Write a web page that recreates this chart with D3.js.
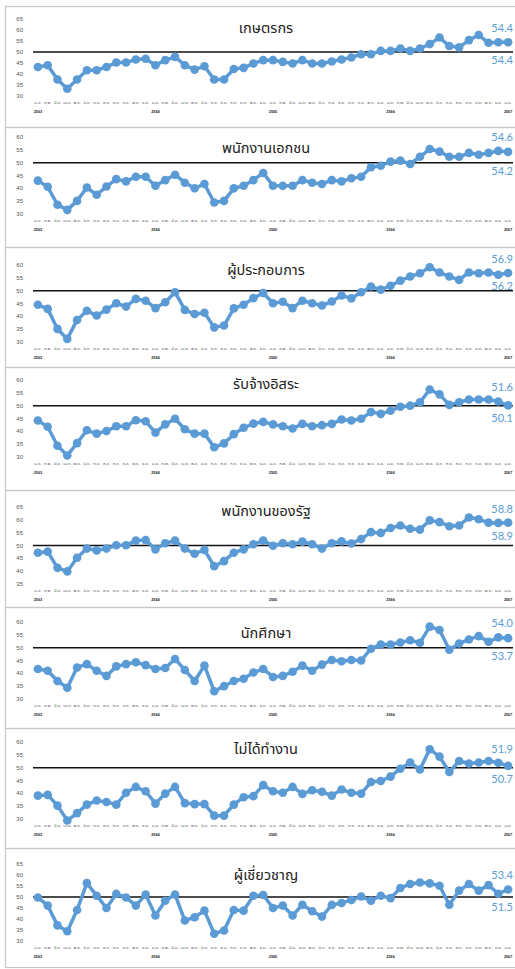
<!DOCTYPE html>
<html>
<head>
<meta charset="utf-8">
<script src="https://cdn.jsdelivr.net/npm/d3@7"></script>
<style>
  body { margin: 0; background: #fff; }
  svg { display: block; }
  .title { font-family: "Noto Sans Thai", "Tahoma", "Leelawadee UI", sans-serif; font-size: 14.5px; fill: #222; }
  .tick-y { font-family: "Liberation Sans", sans-serif; font-size: 6px; fill: #555; }
  .tick-x { font-family: "Noto Sans Thai", "Tahoma", sans-serif; font-size: 4px; fill: #555; }
  .tick-yr { font-family: "Liberation Sans", sans-serif; font-size: 3.8px; fill: #222; font-weight: bold; }
  .val { font-family: Lato, "Open Sans", sans-serif; font-size: 11px; fill: #5b9bd5; }
</style>
</head>
<body>
<div id="chart"></div>
<script>
// month / year tick labels (Jan 2563 .. Jan 2567)
const months = ["ม.ค.", "ก.พ.", "มี.ค.", "เม.ย.", "พ.ค.", "มิ.ย.", "ก.ค.", "ส.ค.", "ก.ย.", "ต.ค.", "พ.ย.", "ธ.ค."]
const years = ["2563", "2564", "2565", "2566", "2567"]

const titles = ["เกษตรกร", "พนักงานเอกชน", "ผู้ประกอบการ", "รับจ้างอิสระ", "พนักงานของรัฐ", "นักศึกษา", "ไม่ได้ทำงาน", "ผู้เชี่ยวชาญ"]

const farmer = [43.2,44.0,37.5,33.3,37.5,41.7,41.7,43.2,45.2,45.2,46.6,46.9,44.0,46.3,47.8,44.0,42.0,43.5,37.5,37.5,42.3,42.8,44.8,46.3,46.3,45.5,44.8,46.3,44.8,44.8,45.7,46.6,47.5,49.0,49.0,50.5,50.5,51.6,50.5,51.6,53.6,56.6,52.7,52.1,55.4,57.7,54.2,54.4,54.4]
const privateEmp = [43.0,40.6,33.6,31.6,35.1,40.3,37.5,40.7,43.6,42.7,44.5,44.5,41.0,43.2,45.3,42.2,40.0,41.7,34.5,35.1,40.0,41.0,43.2,46.0,41.0,41.0,41.0,43.2,42.2,41.7,43.2,42.7,43.9,44.5,48.2,48.8,50.4,50.8,49.5,52.3,55.3,54.3,52.3,52.3,53.8,53.1,53.8,54.6,54.2]
const business = [44.5,42.9,35.1,31.2,38.6,42.2,40.3,42.6,45.1,43.8,46.8,46.1,43.2,45.5,49.4,42.5,40.9,41.4,35.7,36.4,43.1,44.5,47.1,49.1,45.1,45.7,43.2,46.1,45.1,44.2,45.8,48.1,47.0,49.4,51.6,50.4,51.9,53.9,55.5,56.8,59.1,57.1,55.5,54.2,57.1,56.8,57.1,56.2,56.9]
const freelance = [44.2,41.8,34.4,30.6,35.4,40.4,39.1,40.1,42.0,42.0,44.3,43.9,39.5,42.7,44.9,40.8,39.1,39.1,33.8,35.3,38.9,41.4,43.0,43.7,42.7,42.0,41.1,42.9,42.0,42.4,42.9,44.6,44.2,44.9,47.5,46.8,48.0,49.6,50.0,51.3,56.3,54.4,50.3,51.3,52.4,52.4,52.4,51.6,50.1]
const government = [47.2,47.6,41.3,39.9,45.2,48.8,48.1,48.8,50.1,50.1,51.9,52.1,48.5,50.9,51.9,48.8,46.8,48.3,41.9,43.9,47.2,48.5,50.5,51.9,49.9,50.9,50.5,51.5,50.5,48.8,50.9,51.6,50.8,52.5,55.2,54.9,56.8,57.8,56.5,56.2,59.8,59.1,57.5,57.8,60.9,60.2,58.9,58.8,58.9]
const student = [41.7,41.0,37.0,34.4,42.3,43.6,41.0,39.0,42.7,43.6,44.3,43.2,41.7,42.1,45.6,41.3,37.0,43.0,33.0,35.0,37.0,37.9,40.3,41.7,38.6,39.0,40.6,43.0,41.0,43.4,45.2,44.7,45.2,45.0,49.6,51.2,51.2,52.0,52.9,51.9,58.2,56.9,49.2,51.6,53.2,54.5,52.3,54.0,53.7]
const unemployed = [39.1,39.4,35.2,29.4,32.3,35.6,37.2,36.6,35.6,40.2,42.5,40.8,36.0,39.9,42.5,36.2,35.8,35.8,31.3,31.3,35.6,38.5,38.9,43.2,40.8,40.2,42.5,39.8,41.2,40.6,39.1,41.5,40.2,39.9,44.4,44.8,46.5,49.6,52.0,49.3,57.2,54.3,48.3,52.6,51.6,52.0,52.6,51.9,50.7]
const expert = [49.8,46.1,37.1,34.4,44.1,56.3,50.6,45.0,51.4,49.8,46.1,51.1,41.6,48.3,51.1,39.3,40.8,43.8,33.3,34.8,44.1,43.8,50.6,50.9,45.0,46.1,41.6,46.5,43.5,41.1,46.4,47.3,48.6,50.2,48.3,50.6,49.5,54.1,55.9,56.6,56.2,55.1,46.5,52.9,55.9,52.9,55.4,51.5,53.4]

const series = [farmer, privateEmp, business, freelance, government, student, unemployed, expert]

// y axis ranges per panel
const yMin = [30, 30, 30, 30, 35, 30, 30, 30]
const yMax = [65, 60, 60, 60, 65, 60, 60, 65]

// data labels at the end of each line
const upperLabels = ["54.4", "54.6", "56.9", "51.6", "58.8", "54.0", "51.9", "53.4"]
const lowerLabels = ["54.4", "54.2", "56.2", "50.1", "58.9", "53.7", "50.7", "51.5"]

// layout
const W = 515, H = 969
const panelTops = [6, 127, 247, 367, 490, 607, 728, 848, 967]
const plotOffsets = [13, 10, 18, 13, 17, 15, 14, 16]
const titleOffsets = [22, 21, 23, 17, 21, 26, 21, 27]
const plotH = 77
const plotLeft = 33, plotRight = 513
const blue = "#5b9bd5"

const categories = d3.range(farmer.length)

const svg = d3.select("#chart").append("svg")
    .attr("width", W)
    .attr("height", H)

svg.append("rect").attr("width", W).attr("height", H).attr("fill", "#fff")

const x = d3.scaleBand().domain(categories).range([plotLeft, plotRight])
const cx = i => x(i) + x.bandwidth() / 2

series.forEach(function (values, p) {
    const top = panelTops[p]
    const g = svg.append("g")

    // panel frame
    g.append("rect")
        .attr("x", 5.5)
        .attr("y", top + 0.5)
        .attr("width", W + 10)
        .attr("height", panelTops[p + 1] - top)
        .attr("fill", "none")
        .attr("stroke", "#c6c6c6")
        .attr("stroke-width", 1.2)

    const y0 = top + plotOffsets[p]
    const y = d3.scaleLinear().domain([yMin[p], yMax[p]]).range([y0 + plotH, y0])

    // y tick labels
    g.selectAll(".tick-y")
        .data(d3.range(yMin[p], yMax[p] + 1, 5))
        .enter().append("text")
        .attr("class", "tick-y")
        .attr("x", 23)
        .attr("y", d => y(d))
        .attr("dy", "0.35em")
        .attr("text-anchor", "end")
        .text(d => d)

    // x tick labels (months + years)
    const xb = y0 + plotH
    g.selectAll(".tick-x")
        .data(categories)
        .enter().append("text")
        .attr("class", "tick-x")
        .attr("x", d => cx(d))
        .attr("y", xb + 8)
        .attr("text-anchor", "middle")
        .text(d => months[d % 12])

    g.selectAll(".tick-yr")
        .data(categories.filter(d => d % 12 === 0))
        .enter().append("text")
        .attr("class", "tick-yr")
        .attr("x", d => cx(d))
        .attr("y", xb + 17)
        .attr("text-anchor", "middle")
        .text(d => years[d / 12])

    // 50 reference line
    g.append("line")
        .attr("x1", plotLeft)
        .attr("x2", plotRight)
        .attr("y1", y(50))
        .attr("y2", y(50))
        .attr("stroke", "#111")
        .attr("stroke-width", 1.5)

    // title
    g.append("text")
        .attr("class", "title")
        .attr("x", 266)
        .attr("y", top + titleOffsets[p] + 5)
        .attr("text-anchor", "middle")
        .text(titles[p])

    // line + markers
    const line = d3.line()
        .x((d, i) => cx(i))
        .y(d => y(d))

    g.append("path")
        .datum(values)
        .attr("fill", "none")
        .attr("stroke", blue)
        .attr("stroke-width", 3.5)
        .attr("stroke-linejoin", "round")
        .attr("d", line)

    g.selectAll("circle")
        .data(values)
        .enter().append("circle")
        .attr("cx", (d, i) => cx(i))
        .attr("cy", d => y(d))
        .attr("r", 4.3)
        .attr("fill", blue)

    // end labels
    const n = values.length
    const hi = Math.max(values[n - 1], values[n - 2])
    const lo = Math.min(values[n - 1], values[n - 2])

    g.append("text")
        .attr("class", "val")
        .attr("x", 513)
        .attr("y", y(hi) - 14)
        .attr("dy", "0.35em")
        .attr("text-anchor", "end")
        .text(upperLabels[p])

    // keep the lower label clear of the 50 line
    let ly = y(lo) + 13
    const y50 = y(50)
    if (Math.abs(ly - y50) < 7) {
        ly = ly < y50 ? y50 - 5 : y50 + 8
    }
    g.append("text")
        .attr("class", "val")
        .attr("x", 513)
        .attr("y", ly)
        .attr("dy", "0.35em")
        .attr("text-anchor", "end")
        .text(lowerLabels[p])
})
</script>
</body>
</html>
